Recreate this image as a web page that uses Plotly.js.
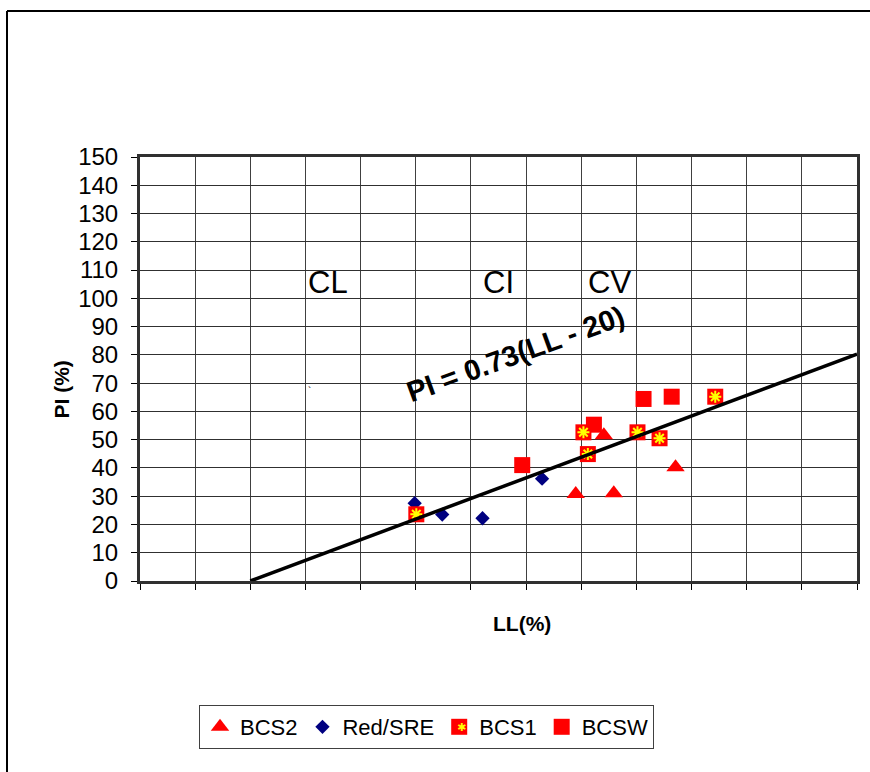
<!DOCTYPE html>
<html>
<head>
<meta charset="utf-8">
<script src="https://cdn.plot.ly/plotly-3.0.1.min.js"></script>
<style>
  html, body { margin: 0; padding: 0; background: #fff; }
  #chart { width: 870px; height: 772px; }
</style>
</head>
<body>
<div id="chart"></div>
<script>
// ---- data ----
const bcs2LL = [79.0, 85.9, 84.1, 97.1];
const bcs2PI = [30.8, 31.0, 51.6, 40.2];

const sreLL = [49.8, 54.8, 62.1, 72.9];
const srePI = [27.5, 23.5, 22.2, 36.2];

const bcs1LL = [50.1, 80.4, 81.2, 90.2, 94.2, 104.3];
const bcs1PI = [23.6, 52.6, 44.9, 52.6, 50.5, 65.2];

const bcswLL = [69.3, 82.3, 91.3, 96.4];
const bcswPI = [41.0, 55.3, 64.4, 65.2];

// A-line: PI = 0.73(LL - 20)
const aLineLL = [20, 130];
const aLinePI = [0, 80.3];

const yTickVals = [0,10,20,30,40,50,60,70,80,90,100,110,120,130,140,150];
const classLabels = ["CL", "CI", "CV"];
const classLL = [34.1, 65.0, 85.2];
const classPI = [105.5, 105.5, 105.5];
const equationText = "PI = 0.73(LL - 20)";
const xTitle = "LL(%)";
const yTitle = "PI (%)";

const FONT = "Liberation Sans, Arial, Helvetica, sans-serif";

const traces = [
  {
    x: bcswLL, y: bcswPI, name: "BCSW", type: "scatter", mode: "markers",
    marker: {symbol: "square", size: 16, color: "#ff0000"},
    legendrank: 4
  },
  {
    x: bcs2LL, y: bcs2PI, name: "BCS2", type: "scatter", mode: "markers",
    marker: {symbol: "triangle-up", size: 16, color: "#ff0000"},
    legendrank: 1
  },
  {
    x: sreLL, y: srePI, name: "Red/SRE", type: "scatter", mode: "markers",
    marker: {symbol: "diamond", size: 11, color: "#000080"},
    legendrank: 2
  },
  {
    x: bcs1LL, y: bcs1PI, name: "BCS1", type: "scatter", mode: "markers",
    marker: {symbol: "square", size: 16, color: "#ff0000"},
    legendrank: 3
  },
  {
    x: bcs1LL, y: bcs1PI, name: "BCS1 star", type: "scatter", mode: "markers",
    marker: {symbol: "asterisk-open", size: 10, color: "#ffff00", line: {color: "#ffff00", width: 2}},
    showlegend: false, hoverinfo: "skip"
  },
  {
    x: aLineLL, y: aLinePI, name: "A-line", type: "scatter", mode: "lines",
    line: {color: "#000000", width: 3.5},
    showlegend: false
  }
];

const annotations = classLabels.map((t, i) => ({
  x: classLL[i], y: classPI[i], xref: "x", yref: "y",
  text: t, showarrow: false,
  font: {family: FONT, size: 31, color: "#000"}
}));
annotations.push({
  x: 68.1, y: 80.3, xref: "x", yref: "y",
  text: "<b>" + equationText + "</b>", showarrow: false, textangle: -20,
  font: {family: FONT, size: 29, color: "#000"}
});
annotations.push({
  x: 30.8, y: 67, xref: "x", yref: "y",
  text: "`", showarrow: false,
  font: {family: FONT, size: 10, color: "#000"}
});
annotations.push({
  x: (522 - 140) / 717, y: (581 - 637) / 424, xref: "paper", yref: "paper",
  text: "<b>" + xTitle + "</b>", showarrow: false,
  font: {family: FONT, size: 21, color: "#000"}
});
annotations.push({
  x: (47 - 140) / 717, y: (581 - 390) / 424, xref: "paper", yref: "paper",
  text: "<b>" + yTitle + "</b>", showarrow: false, textangle: -90,
  font: {family: FONT, size: 21, color: "#000"}
});
// yellow asterisk on the BCS1 legend symbol
annotations.push({
  x: (461 - 140) / 717, y: (581 - 736) / 424, xref: "paper", yref: "paper",
  text: "\u2731", showarrow: false,
  font: {family: "DejaVu Sans, sans-serif", size: 11, color: "#ffff00"}
});

const layout = {
  width: 870, height: 772,
  margin: {l: 140, r: 13, t: 157, b: 191, pad: 0},
  paper_bgcolor: "#ffffff",
  plot_bgcolor: "#ffffff",
  font: {family: FONT, size: 24, color: "#000"},
  showlegend: true,
  xaxis: {
    range: [0, 130], tickmode: "linear", tick0: 0, dtick: 10,
    showticklabels: false, ticks: "outside", ticklen: 6, tickcolor: "#000", tickwidth: 1,
    showgrid: true, gridcolor: "#404040", gridwidth: 1,
    showline: true, linecolor: "#303030", linewidth: 3, mirror: true,
    zeroline: false, fixedrange: true
  },
  yaxis: {
    range: [0, 150], tickmode: "array", tickvals: yTickVals,
    ticktext: yTickVals.map(String),
    ticks: "outside", ticklen: 6, tickcolor: "#000", tickwidth: 1,
    ticklabelstandoff: 8,
    tickfont: {family: FONT, size: 24, color: "#000"},
    showgrid: true, gridcolor: "#303030", gridwidth: 1,
    showline: true, linecolor: "#303030", linewidth: 3, mirror: true,
    zeroline: false, fixedrange: true
  },
  legend: {
    orientation: "h",
    x: (426.5 - 140) / 717, xanchor: "center",
    y: (581 - 705) / 424, yanchor: "top",
    bordercolor: "#404040", borderwidth: 1, bgcolor: "#ffffff",
    font: {family: FONT, size: 22, color: "#000"},
    traceorder: "normal"
  },
  shapes: [
    {type: "line", xref: "paper", yref: "paper",
     x0: (7 - 140) / 717, x1: 1.03, y0: (581 - 11) / 424, y1: (581 - 11) / 424,
     line: {color: "#000", width: 2}},
    {type: "line", xref: "paper", yref: "paper",
     x0: (7 - 140) / 717, x1: (7 - 140) / 717, y0: (581 - 11) / 424, y1: -0.5,
     line: {color: "#000", width: 2}}
  ],
  annotations: annotations
};

Plotly.newPlot("chart", traces, layout, {displayModeBar: false, staticPlot: true});
</script>
</body>
</html>
